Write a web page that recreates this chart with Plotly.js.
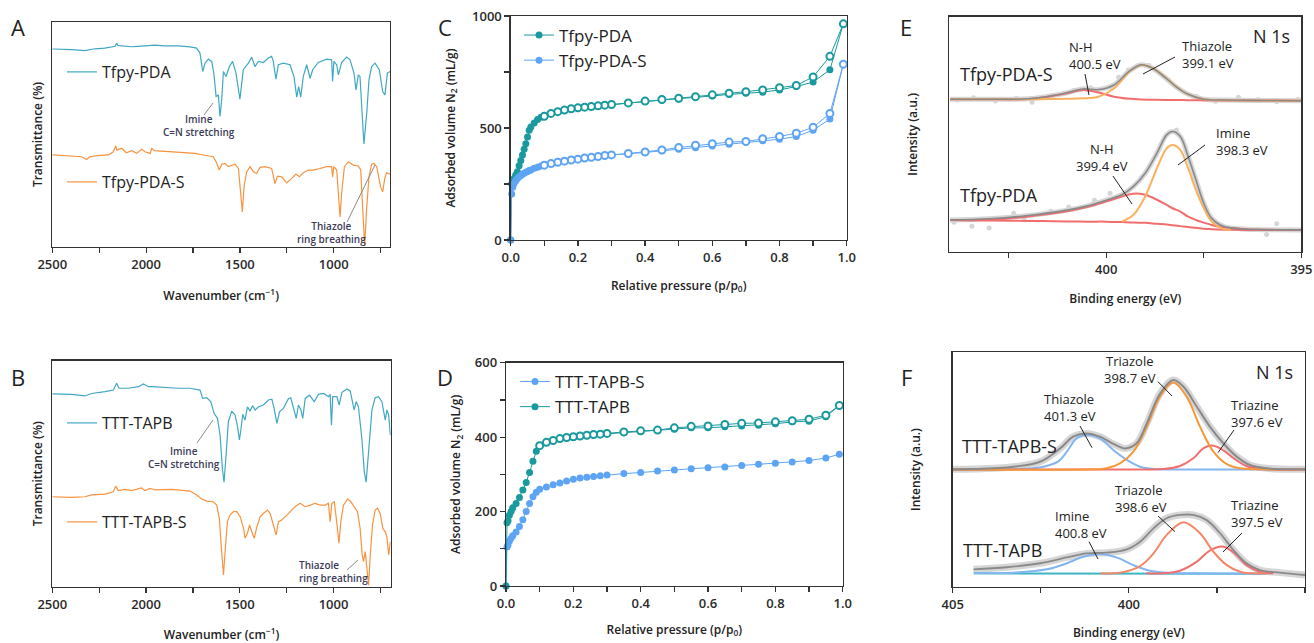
<!DOCTYPE html>
<html><head><meta charset="utf-8">
<script src="https://cdn.plot.ly/plotly-3.0.1.min.js"></script>
<style>html,body{margin:0;padding:0;background:#fff}#g{width:1314px;height:643px}</style>
</head><body><div id="g"></div>
<script>
// ---------- Panel A: FTIR ----------
const ftirA_PDA_wn = [2500,2440,2397,2326,2300,2273,2220,2184,2165,2157,2150,2130,2080,2042,2000,1953,1900,1828,1766,1731,1713,1698,1686,1668,1650,1638,1627,1615,1606,1597,1588,1574,1556,1539,1521,1500,1482,1468,1455,1437,1420,1402,1375,1349,1331,1322,1308,1295,1269,1233,1212,1197,1187,1176,1162,1144,1126,1112,1082,1038,1011,1006,999,984,975,958,931,913,892,881,869,860,851,839,824,812,798,780,757,739,727,714,700];
const ftirA_PDA_T = [88.0,87.9,87.7,87.3,87.8,88.1,88.4,88.9,89.2,90.6,89.6,89.4,89.0,89.2,89.3,89.7,89.4,89.4,88.9,88.4,86.2,78,81.7,83.5,82.5,76.5,66.9,67.6,58,65.4,78,75.8,80.2,82.5,77.3,65.7,78.8,80.2,81.7,84.4,80.2,82.5,82,84,84.7,82.5,74.6,81,81.7,81,75.8,66.6,71.3,66.6,75.8,81,75,78.8,82,83.5,83.2,73.6,82.5,81,76.5,82,84.4,83.2,77.3,69.8,76.5,75.8,62.4,45.8,59.4,74.3,80.2,81.7,78.8,69.1,67.6,77.3,78];
const ftirA_PDAS_wn = [2500,2420,2343,2317,2300,2260,2200,2175,2162,2155,2148,2130,2105,2077,2050,2024,2006,1979,1970,1955,1900,1864,1800,1766,1740,1695,1642,1627,1610,1597,1579,1562,1544,1526,1508,1496,1487,1478,1464,1446,1428,1411,1393,1366,1331,1313,1300,1277,1251,1224,1201,1183,1162,1135,1109,1073,1038,1011,1006,999,984,972,966,958,943,922,895,869,856,846,835,824,812,798,785,771,750,739,728,718,700];
const ftirA_PDAS_T = [40.9,40.6,40.1,38.9,40.1,40.6,40.9,42.3,44.9,42.8,43.4,43.8,41.9,42.8,41.6,43.4,42.3,41.6,43.8,42.8,42.5,42.3,41.9,41.6,41.6,40.9,40.1,37.9,34.2,36.8,37.1,35.7,36.4,36.8,34.9,25.3,15.6,26.7,33.4,35.7,33.4,32.7,35.4,35.7,34.9,28.2,31.5,31.2,28.5,30.5,32.4,31.2,33.0,34.2,34.2,34.9,35.7,35.7,31.2,35.7,34.2,20.1,13.4,23.8,35.7,37.9,36.4,36.0,34.2,17.8,0.5,17.8,31.2,36.8,37.1,35.7,26.7,24.5,30.5,33.0,32.4];

// ---------- Panel B: FTIR ----------
const ftirB_TAPB_wn = [2500,2397,2326,2290,2219,2174,2157,2144,2094,2041,2014,1988,1970,1916,1827,1765,1712,1698,1676,1655,1637,1619,1605,1593,1584,1573,1561,1543,1525,1512,1502,1493,1484,1472,1459,1445,1432,1418,1400,1374,1347,1329,1317,1302,1288,1267,1240,1228,1213,1199,1187,1174,1164,1151,1128,1103,1080,1053,1027,1018,1011,1004,982,970,955,929,911,897,890,879,867,849,836,826,813,795,778,760,742,733,724,715,706,697];
const ftirB_TAPB_T = [85.3,85.1,84.4,85.5,86.3,87.0,90.0,87.8,87.8,88.5,89.7,88.5,88.5,88.2,87.8,87.8,87.0,83.3,83.6,81.9,76.7,74.5,67.1,52.4,46.2,58.3,73.0,77.7,76.0,70.8,64.9,70.1,76.3,73.7,79.6,77.7,80.1,78.2,79.6,80.4,82.6,83.0,78.9,72.3,77.4,78.9,83.3,83.6,78.2,74.5,80.4,78.2,74.5,83.3,84.8,81.9,85.1,85.5,84.1,85.1,71.5,84.1,84.1,80.4,86.0,87.5,86.6,81.9,78.2,81.9,79.6,65.6,50.9,46.2,58.3,78.2,83.6,84.1,81.9,76.7,73.7,78.2,76.0,67.1];
const ftirB_TAPBS_wn = [2500,2397,2326,2290,2219,2174,2162,2148,2112,2077,2024,2006,1979,1952,1863,1765,1730,1703,1676,1641,1623,1609,1598,1587,1577,1566,1552,1534,1516,1498,1480,1472,1459,1448,1436,1423,1409,1391,1374,1352,1338,1320,1306,1294,1276,1249,1231,1205,1178,1151,1124,1098,1071,1044,1027,1018,1009,996,982,971,961,947,925,907,890,872,858,847,840,831,822,813,804,792,778,765,751,737,724,715,706,697];
const ftirB_TAPBS_T = [39.8,39.5,39.8,40.6,41.0,42.0,44.5,42.5,43.1,42.5,43.7,42.5,43.5,42.8,43.1,42.3,40.6,38.8,37.9,37.6,36.1,30.2,17.0,5.2,17.0,28.8,31.7,33.2,33.2,31.0,25.8,21.4,23.6,27.3,24.3,21.4,26.5,31.0,32.4,33.9,32.4,27.3,22.9,28.8,29.5,31.7,33.2,35.4,36.9,35.4,36.1,36.9,36.1,36.1,36.9,28.8,36.9,37.6,28.0,19.2,28.8,36.1,38.8,37.6,35.4,33.2,25.8,14.0,11.1,15.5,8.1,0.7,14.0,27.3,33.9,34.7,32.4,25.8,24.3,22.1,14.0,19.9];

// ---------- Panel C: N2 isotherms ----------
const pC_ads = [0,0.003,0.006,0.01,0.015,0.02,0.025,0.03,0.035,0.04,0.045,0.05,0.055,0.06,0.07,0.08,0.09,0.1,0.12,0.14,0.16,0.18,0.2,0.22,0.24,0.26,0.28,0.3,0.35,0.4,0.45,0.5,0.55,0.6,0.65,0.7,0.75,0.8,0.85,0.9,0.95,0.99];
const vC_PDA_ads = [0,250,262,275,290,305,332,355,380,405,430,460,490,505,522,538,548,556,565,573,580,585,590,595,598,600,603,606,612,618,625,630,637,643,650,655,660,670,685,705,760,965];
const vC_PDAS_ads = [0,205,235,252,265,275,282,288,293,298,302,306,310,313,320,325,330,334,341,347,352,357,361,366,369,373,377,379,385,391,398,405,412,420,428,436,443,450,462,490,540,785];
const pC_des = [0.99,0.95,0.9,0.85,0.8,0.75,0.7,0.65,0.6,0.55,0.5,0.45,0.4,0.35,0.3,0.28,0.26,0.24,0.22,0.2,0.18,0.16,0.14,0.12,0.1];
const vC_PDA_des = [965,820,728,690,680,670,662,655,648,640,633,627,620,612,605,602,599,596,593,590,586,580,573,565,552];
const vC_PDAS_des = [785,565,503,477,462,452,440,437,430,423,413,402,393,386,380,377,373,369,366,361,357,352,347,341,334];

// ---------- Panel D: N2 isotherms ----------
const pD_ads = [0,0.003,0.006,0.01,0.015,0.02,0.03,0.04,0.05,0.06,0.07,0.08,0.09,0.1,0.12,0.14,0.16,0.18,0.2,0.22,0.24,0.26,0.28,0.3,0.35,0.4,0.45,0.5,0.55,0.6,0.65,0.7,0.75,0.8,0.85,0.9,0.95,0.99];
const vD_TAPBS_ads = [0,105,110,120,128,135,145,160,178,200,222,240,252,260,266,272,277,282,287,290,292,294,296,298,302,305,309,312,315,318,320,324,327,330,333,337,344,354];
const vD_TAPB_ads = [0,170,175,190,200,210,222,238,258,278,305,335,362,378,386,391,395,398,400,402,404,406,407,409,412,415,418,421,425,425,428,430,432,436,441,443,455,485];
const pD_des = [0.99,0.95,0.9,0.85,0.8,0.75,0.7,0.65,0.6,0.55,0.5,0.45,0.4,0.35,0.3,0.28,0.26,0.24,0.22,0.2,0.18,0.16,0.14,0.12,0.1];
const vD_TAPB_des = [485,459,448,444,441,438,437,434,430,429,425,419,417,414,410,408,407,405,403,401,399,396,391,386,377];

// ---------- Panel E: XPS N 1s ----------
const beE_top = [404.0,403.0,402.0,401.5,401.0,400.6,400.2,399.8,399.4,399.1,398.8,398.5,398.2,397.9,397.5,397.0,396.0,395.0];
const iE_top_NH = [64.9,64.9,65.0,66.0,67.5,68.9,67.8,66.0,65.1,64.8,64.7,64.6,64.6,64.5,64.5,64.4,64.4,64.3];
const iE_top_thiazole = [64.9,64.9,64.9,65.0,65.1,65.3,66.0,69.5,76.7,79.5,78.1,74.5,70.3,67.0,64.9,64.6,64.4,64.3];
const iE_top_env = [64.9,64.9,65.1,66.1,67.7,69.3,69.0,71.0,77.0,79.6,78.0,74.3,70.1,67.0,64.9,64.6,64.4,64.3];
const beE_top_raw = [403.82,403.4,402.84,402.3,401.9,401.43,400.84,400.4,399.68,399.43,398.9,398.4,397.7,397.2,396.61,396.1,395.63,395.08];
const iE_top_raw = [64.6,65.6,64.2,65.3,63.6,66.1,68.6,69.8,74.3,77.4,79.3,73.1,66.2,64.1,65.8,64.8,63.9,64.9];
const beE_bot = [404.0,403.0,402.0,401.0,400.5,400.0,399.6,399.3,399.0,398.7,398.45,398.3,398.1,397.9,397.7,397.5,397.3,397.0,396.5,396.0,395.0];
const iE_bot_bg = [13.6,13.4,13.2,13.0,12.9,12.9,12.7,12.5,12.4,12.0,11.7,11.4,11.0,10.6,10.3,9.9,9.7,9.5,9.4,9.3,9.3];
const iE_bot_NH = [13.6,13.7,15.1,17.3,19.1,21.5,23.6,24.8,24.3,22.2,20.0,18.6,17.2,15.0,13.6,12.5,11.5,10.5,9.8,9.5,9.3];
const iE_bot_env = [13.6,14.1,15.5,17.8,19.5,22.0,24.3,27.9,33.5,42.0,49.8,51.2,49.1,40.6,30.7,20.8,14.4,10.9,9.8,9.5,9.4];
const beE_imine = [399.6,399.3,399.0,398.7,398.45,398.3,398.1,397.9,397.7,397.5,397.3,397.0,396.8];
const iE_imine = [12.9,15.8,23.6,35.6,44.1,45.5,43.4,35.6,26.4,18.7,13.0,9.8,9.5];
const beE_bot_raw = [403.9,403.44,403.0,402.37,402.1,401.42,400.96,400.3,399.9,399.1,398.2,397.6,396.53,395.89,395.63,395.29];
const iE_bot_raw = [12.6,10.9,10.2,16.5,13.7,17.3,19.1,22.0,25.0,31.6,51.8,25.5,9.8,7.4,12.0,9.5];

// ---------- Panel F: XPS N 1s ----------
const beF_top_env = [405.0,404.41,403.28,402.52,401.95,401.58,401.2,400.82,400.44,400.11,399.78,399.49,399.12,398.74,398.45,398.07,397.70,397.32,396.94,396.56,396.09,395.0];
const iF_top_env = [50.1,50.2,51.2,53.3,59.0,64.0,65.4,64.0,60.9,59.0,61.2,69.7,82.2,88.2,85.3,76.8,68.3,61.2,55.5,51.9,50.5,50.1];
const beF_top_thiazole = [405.0,403.5,402.5,402.0,401.76,401.48,401.15,400.82,400.44,400.06,399.68,399.30,398.5,397.0,395.0];
const iF_top_thiazole = [50.0,50.1,51.0,53.5,57.6,63.3,64.7,63.3,58.3,54.1,51.2,50.2,50.0,50.0,50.0];
const beF_top_triazole = [405.0,401.0,400.63,400.25,399.87,399.49,399.12,398.74,398.36,397.98,397.60,397.22,396.84,396.37,395.0];
const iF_top_triazole = [50.0,50.1,50.5,52.6,57.6,68.3,81.1,87.1,81.1,68.3,57.6,52.3,50.5,50.1,50.0];
const beF_top_triazine = [405.0,399.5,399.02,398.55,398.17,397.89,397.65,397.37,397.03,396.66,396.18,395.0];
const iF_top_triazine = [50.0,50.0,50.2,51.5,54.8,59.0,60.2,58.7,54.8,51.5,50.2,50.0];
const beF_bot_env = [404.41,403.47,402.52,401.76,401.2,400.63,400.06,399.68,399.30,398.93,398.55,398.17,397.79,397.41,397.03,396.66,396.28,395.71,395.0];
const iF_bot_env = [7.4,8.3,10.0,12.5,14.2,14.5,15.9,19.2,24.9,29.2,30.6,30.6,28.4,22.8,15.6,10.0,7.1,6.0,5.0];
const beF_bot_imine = [404.4,403.28,402.33,401.76,401.29,400.82,400.35,399.87,399.40,398.93,398.0,396.1];
const iF_bot_imine = [5.7,6.0,7.4,10.0,12.8,14.0,12.5,9.2,6.8,6.0,5.7,5.6];
const beF_bot_triazole = [400.8,400.25,399.68,399.30,398.93,398.45,397.98,397.60,397.22,396.84,396.47,396.1];
const iF_bot_triazole = [5.7,6.0,8.8,14.2,22.0,27.5,22.8,14.9,9.2,6.4,5.7,5.6];
const beF_bot_triazine = [399.5,399.02,398.55,398.07,397.70,397.34,396.99,396.66,396.28,395.9];
const iF_bot_triazine = [5.7,5.7,6.8,10.7,15.4,17.1,14.2,9.2,6.4,5.7];
const beF_bot_base = [404.4,396.1];
const iF_bot_base = [5.7,5.5];

// ---------- ticks (labelled majors, unlabelled minors) ----------
const ftirTicks = [2500,2000,1500,1000];
const ftirMinor = [2250,1750,1250,750];
const pTicks = [0,0.2,0.4,0.6,0.8,1.0];
const pTickText = ['0.0','0.2','0.4','0.6','0.8','1.0'];
const pMinor = [0.1,0.3,0.5,0.7,0.9];
const vTicksC = [0,500,1000];
const vMinorC = [250,750];
const vTicksD = [0,200,400,600];
const vMinorD = [100,300,500];
const beTicksE = [400,395];
const beTicksF = [405,400,395];
const beMinor = [402.5,397.5];

// ---------- helpers ----------
const W = 1314, H = 643;
const FONT = 'Open Sans, sans-serif';
const X = p => p / W;
const Y = p => 1 - p / H;
const TEAL_IR = '#41a8c3', ORANGE_IR = '#f8933f';
const TEAL = '#1a9a9e', BLUE = '#5ea4f4';
const RED = '#f26e6e', ORANGE_X = '#f9b160', ORANGE_F = '#f6983a', SALMON = '#f4876a', LBLUE = '#82b5f2', GREY = '#8a8a8a', RAW = '#d6d6d6', BASE_T = '#3fb5c4';

function ax(extra, minorVals) {
  const a = Object.assign({
    showline: true, mirror: true, linecolor: '#333', linewidth: 1.3,
    showgrid: false, zeroline: false, ticks: 'outside', ticklen: 5, tickwidth: 1.2, tickcolor: '#333',
    tickfont: {family: FONT, size: 13, color: '#2a2a2a', weight: 600}, automargin: false, fixedrange: true,
    tickmode: 'array'
  }, extra);
  if (minorVals) a.minor = {tickmode: 'array', tickvals: minorVals, ticks: 'outside', ticklen: 5, tickwidth: 1.2, tickcolor: '#333', showgrid: false};
  return a;
}
function ttl(text, standoff, size) {
  return {text: text, standoff: standoff, font: {family: FONT, size: size || 12, color: '#222', weight: 600}};
}
function leg(xp, yp, size) {
  return {x: X(xp), y: Y(yp), xanchor: 'left', yanchor: 'middle', bgcolor: 'rgba(0,0,0,0)',
    borderwidth: 0, font: {family: FONT, size: size, color: '#222'}, tracegroupgap: 0, itemwidth: 30};
}
function line(xs, ys, xa, ya, color, width, extra) {
  return Object.assign({x: xs, y: ys, xaxis: xa, yaxis: ya, mode: 'lines', showlegend: false,
    line: {color: color, width: width}, hoverinfo: 'skip'}, extra || {});
}
function spl(xs, ys, xa, ya, color, width) {
  return line(xs, ys, xa, ya, color, width, {line: {color: color, width: width, shape: 'spline', smoothing: 1}});
}

const traces = [
  // A
  line(ftirA_PDA_wn, ftirA_PDA_T, 'x', 'y', TEAL_IR, 1.2, {name: 'Tfpy-PDA', showlegend: true, legend: 'legend'}),
  line(ftirA_PDAS_wn, ftirA_PDAS_T, 'x', 'y', ORANGE_IR, 1.2, {name: 'Tfpy-PDA-S', showlegend: true, legend: 'legend2'}),
  // B
  line(ftirB_TAPB_wn, ftirB_TAPB_T, 'x2', 'y2', TEAL_IR, 1.2, {name: 'TTT-TAPB', showlegend: true, legend: 'legend3'}),
  line(ftirB_TAPBS_wn, ftirB_TAPBS_T, 'x2', 'y2', ORANGE_IR, 1.2, {name: 'TTT-TAPB-S', showlegend: true, legend: 'legend4'}),
  // C
  {x: pC_ads, y: vC_PDA_ads, xaxis: 'x3', yaxis: 'y3', mode: 'lines+markers', name: 'Tfpy-PDA', legend: 'legend5',
    line: {color: TEAL, width: 1}, marker: {color: TEAL, size: 7}, cliponaxis: false},
  {x: pC_ads, y: vC_PDAS_ads, xaxis: 'x3', yaxis: 'y3', mode: 'lines+markers', name: 'Tfpy-PDA-S', legend: 'legend5',
    line: {color: BLUE, width: 1}, marker: {color: BLUE, size: 7}, cliponaxis: false},
  {x: pC_des, y: vC_PDA_des, xaxis: 'x3', yaxis: 'y3', mode: 'lines+markers', showlegend: false,
    line: {color: TEAL, width: 1}, marker: {color: '#fff', size: 7, line: {color: TEAL, width: 2}}, cliponaxis: false},
  {x: pC_des, y: vC_PDAS_des, xaxis: 'x3', yaxis: 'y3', mode: 'lines+markers', showlegend: false,
    line: {color: BLUE, width: 1}, marker: {color: '#fff', size: 7, line: {color: BLUE, width: 2}}, cliponaxis: false},
  // D
  {x: pD_ads, y: vD_TAPBS_ads, xaxis: 'x4', yaxis: 'y4', mode: 'lines+markers', name: 'TTT-TAPB-S', legend: 'legend6',
    line: {color: BLUE, width: 1}, marker: {color: BLUE, size: 7}, cliponaxis: false},
  {x: pD_ads, y: vD_TAPB_ads, xaxis: 'x4', yaxis: 'y4', mode: 'lines+markers', name: 'TTT-TAPB', legend: 'legend6',
    line: {color: TEAL, width: 1}, marker: {color: TEAL, size: 7}, cliponaxis: false},
  {x: pD_des, y: vD_TAPB_des, xaxis: 'x4', yaxis: 'y4', mode: 'lines+markers', showlegend: false,
    line: {color: TEAL, width: 1}, marker: {color: '#fff', size: 7, line: {color: TEAL, width: 2}}, cliponaxis: false},
  // E top
  spl(beE_top, iE_top_env, 'x5', 'y5', RAW, 5),
  {x: beE_top_raw, y: iE_top_raw, xaxis: 'x5', yaxis: 'y5', mode: 'markers', showlegend: false, marker: {color: RAW, size: 5}},
  spl(beE_top, iE_top_NH, 'x5', 'y5', RED, 2),
  spl(beE_top, iE_top_thiazole, 'x5', 'y5', ORANGE_X, 2),
  spl(beE_top, iE_top_env, 'x5', 'y5', GREY, 1.6),
  // E bottom
  spl(beE_bot, iE_bot_env, 'x5', 'y5', RAW, 5),
  {x: beE_bot_raw, y: iE_bot_raw, xaxis: 'x5', yaxis: 'y5', mode: 'markers', showlegend: false, marker: {color: RAW, size: 5}},
  spl(beE_bot, iE_bot_bg, 'x5', 'y5', RED, 2),
  spl(beE_bot, iE_bot_NH, 'x5', 'y5', RED, 2),
  spl(beE_imine, iE_imine, 'x5', 'y5', ORANGE_X, 2),
  spl(beE_bot, iE_bot_env, 'x5', 'y5', GREY, 1.6),
  // F top
  spl(beF_top_env, iF_top_env, 'x6', 'y6', RAW, 7),
  spl(beF_top_thiazole, iF_top_thiazole, 'x6', 'y6', LBLUE, 2),
  spl(beF_top_triazine, iF_top_triazine, 'x6', 'y6', RED, 2),
  spl(beF_top_triazole, iF_top_triazole, 'x6', 'y6', ORANGE_F, 2),
  spl(beF_top_env, iF_top_env, 'x6', 'y6', GREY, 2),
  // F bottom
  spl(beF_bot_env, iF_bot_env, 'x6', 'y6', RAW, 7),
  line(beF_bot_base, iF_bot_base, 'x6', 'y6', BASE_T, 2),
  spl(beF_bot_imine, iF_bot_imine, 'x6', 'y6', LBLUE, 2),
  spl(beF_bot_triazine, iF_bot_triazine, 'x6', 'y6', RED, 2),
  spl(beF_bot_triazole, iF_bot_triazole, 'x6', 'y6', SALMON, 2),
  spl(beF_bot_env, iF_bot_env, 'x6', 'y6', GREY, 1.8)
];

function txt(xp, yp, text, size, o) {
  o = o || {};
  return {xref: 'paper', yref: 'paper', x: X(xp), y: Y(yp), text: text, showarrow: false,
    xanchor: o.xanchor || 'center', yanchor: 'middle', align: o.align || 'center',
    font: {family: FONT, size: size, color: o.color || '#222', weight: o.weight || 400}};
}
function seg(x0, y0, x1, y1, color) {
  return {type: 'line', xref: 'paper', yref: 'paper', x0: X(x0), y0: Y(y0), x1: X(x1), y1: Y(y1),
    line: {color: color || '#222', width: 1}};
}
const NAVY = '#3b3b58';
const annotations = [
  txt(18, 27, 'A', 22), txt(18, 377, 'B', 22), txt(445, 27, 'C', 22),
  txt(445, 377, 'D', 22), txt(906, 27, 'E', 22), txt(906, 377, 'F', 22),
  txt(199, 125.5, 'Imine<br>C=N stretching', 10, {color: NAVY, weight: 600}),
  txt(331, 233, 'Thiazole<br>ring breathing', 10, {color: NAVY, weight: 600}),
  txt(184, 457, 'Imine<br>C=N stretching', 10, {color: NAVY, weight: 600}),
  txt(296.7, 571, 'Thiazole<br>ring breathing', 10, {color: NAVY, xanchor: 'left', align: 'left', weight: 600}),
  // E
  txt(1292, 36, 'N 1s', 18, {xanchor: 'right'}),
  txt(958, 74, 'Tfpy-PDA-S', 18, {xanchor: 'left'}),
  txt(958, 195, 'Tfpy-PDA', 18, {xanchor: 'left'}),
  txt(1066.7, 55, 'N-H<br>400.5 eV', 13, {xanchor: 'left', align: 'left'}),
  txt(1180, 54, 'Thiazole<br>399.1 eV', 13, {xanchor: 'left', align: 'left'}),
  txt(1102, 157.5, 'N-H<br>399.4 eV', 13),
  txt(1214.3, 141.5, 'Imine<br>398.3 eV', 13, {xanchor: 'left', align: 'left'}),
  // F
  txt(1295, 372, 'N 1s', 18, {xanchor: 'right'}),
  txt(960, 445.7, 'TTT-TAPB-S', 18, {xanchor: 'left'}),
  txt(961, 550, 'TTT-TAPB', 18, {xanchor: 'left'}),
  txt(1130, 369, 'Triazole<br>398.7 eV', 13),
  txt(1042.3, 407.5, 'Thiazole<br>401.3 eV', 13, {xanchor: 'left', align: 'left'}),
  txt(1229, 413.5, 'Triazine<br>397.6 eV', 13, {xanchor: 'left', align: 'left'}),
  txt(1112.7, 498.5, 'Triazole<br>398.6 eV', 13, {xanchor: 'left', align: 'left'}),
  txt(1053.3, 524, 'Imine<br>400.8 eV', 13, {xanchor: 'left', align: 'left'}),
  txt(1229.3, 513.5, 'Triazine<br>397.5 eV', 13, {xanchor: 'left', align: 'left'})
];
const shapes = [
  seg(213, 103, 204, 115, '#8a8a8a'), seg(375, 165, 347, 222, '#8a8a8a'),
  seg(213, 420, 197, 443, '#8a8a8a'), seg(358, 560, 347, 570, '#8a8a8a'),
  seg(1085, 74, 1089, 95), seg(1175, 57, 1143, 74), seg(1113, 176, 1132, 204), seg(1205, 145, 1178, 165),
  seg(1158, 381.7, 1172, 396), seg(1080, 426, 1092, 447.7), seg(1234, 430, 1218, 452.7),
  seg(1158, 516, 1175, 531.7), seg(1089, 541.7, 1098, 559), seg(1242, 533, 1223, 552)
];

const layout = {
  width: W, height: H, autosize: false,
  margin: {l: 0, r: 0, t: 0, b: 0, pad: 0},
  paper_bgcolor: '#fff', plot_bgcolor: 'rgba(0,0,0,0)',
  font: {family: FONT, color: '#222'},
  hovermode: false,
  xaxis: ax({domain: [X(52.3), X(390)], range: [2500, 700], anchor: 'y', tickvals: ftirTicks,
    title: ttl('Wavenumber (cm<sup>−1</sup>)', 19)}, ftirMinor),
  yaxis: ax({domain: [Y(247), Y(22)], range: [0, 100], anchor: 'x', ticks: '', showticklabels: false,
    title: ttl('Transmittance (%)', 5)}),
  xaxis2: ax({domain: [X(52.3), X(390.7)], range: [2500, 695], anchor: 'y2', tickvals: ftirTicks,
    title: ttl('Wavenumber (cm<sup>−1</sup>)', 20)}, ftirMinor),
  yaxis2: ax({domain: [Y(586.7), Y(360.7)], range: [0, 100], anchor: 'x2', ticks: '', showticklabels: false,
    title: ttl('Transmittance (%)', 5)}),
  xaxis3: ax({domain: [X(510.7), X(846.7)], range: [0, 1.0], anchor: 'y3', tickvals: pTicks, ticktext: pTickText,
    title: ttl('Relative pressure (p/p<sub>0</sub>)', 16)}, pMinor),
  yaxis3: ax({domain: [Y(240), Y(16)], range: [0, 1000], anchor: 'x3', tickvals: vTicksC,
    title: ttl('Adsorbed volume N<sub>2</sub> (mL/g)', 14)}, vMinorC),
  xaxis4: ax({domain: [X(506), X(842.7)], range: [0, 1.0], anchor: 'y4', tickvals: pTicks, ticktext: pTickText,
    title: ttl('Relative pressure (p/p<sub>0</sub>)', 14)}, pMinor),
  yaxis4: ax({domain: [Y(586), Y(362.7)], range: [0, 600], anchor: 'x4', tickvals: vTicksD,
    title: ttl('Adsorbed volume N<sub>2</sub> (mL/g)', 11)}, vMinorD),
  xaxis5: ax({domain: [X(949.3), X(1301.3)], range: [404.02, 395], anchor: 'y5', tickvals: beTicksE,
    title: ttl('Binding energy (eV)', 17)}, beMinor),
  yaxis5: ax({domain: [Y(252), Y(16.7)], range: [0, 100], anchor: 'x5', ticks: '', showticklabels: false,
    title: ttl('Intensity (a.u.)', 27, 12)}),
  xaxis6: ax({domain: [X(952.7), X(1305)], range: [405, 395], anchor: 'y6', tickvals: beTicksF,
    title: ttl('Binding energy (eV)', 17)}, beMinor),
  yaxis6: ax({domain: [Y(586.7), Y(352.3)], range: [0, 100], anchor: 'x6', ticks: '', showticklabels: false,
    title: ttl('Intensity (a.u.)', 28, 12)}),
  legend: leg(62, 72, 16), legend2: leg(62, 182, 16),
  legend3: leg(62, 423, 16), legend4: leg(62, 522, 16),
  legend5: leg(519, 48, 17), legend6: leg(515, 394.5, 17),
  annotations: annotations, shapes: shapes
};
Plotly.newPlot('g', traces, layout, {staticPlot: true, displayModeBar: false});
</script></body></html>
